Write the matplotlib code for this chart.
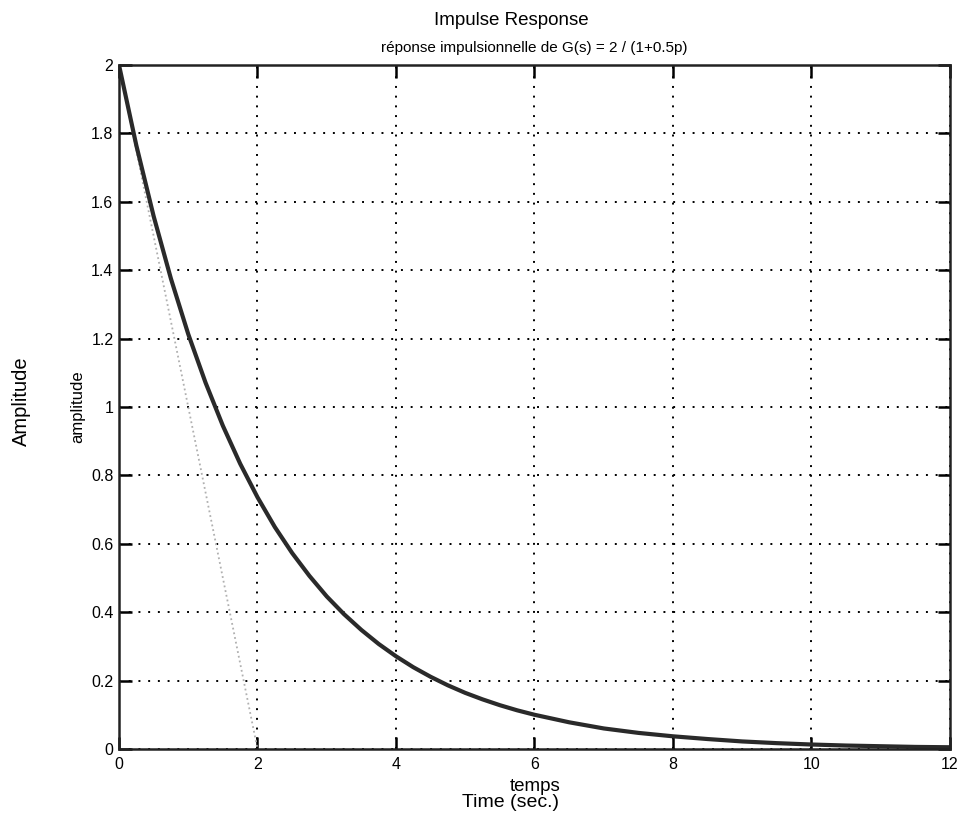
import matplotlib
matplotlib.use("Agg")
from matplotlib import pyplot as plt

# valeurs
temps = [0, 0.25, 0.5, 0.75, 1, 1.25, 1.5, 1.75, 2, 2.25, 2.5, 2.75, 3, 3.25, 3.5, 3.75, 4,
         4.25, 4.5, 4.75, 5, 5.25, 5.5, 5.75, 6, 6.5, 7, 7.5, 8, 8.5, 9, 9.5, 10, 10.5, 11,
         11.5, 12]
amplitude = [2.000, 1.765, 1.558, 1.375, 1.213, 1.071, 0.945, 0.834, 0.736, 0.649, 0.573,
             0.506, 0.446, 0.394, 0.348, 0.307, 0.271, 0.239, 0.211, 0.186, 0.164, 0.145,
             0.128, 0.113, 0.100, 0.078, 0.060, 0.047, 0.037, 0.029, 0.022, 0.017, 0.013,
             0.010, 0.008, 0.006, 0.005]
tangente_t = [0, 2]
tangente_y = [2, 0]
x_ticks = [0, 2, 4, 6, 8, 10, 12]
y_ticks = [0, 0.2, 0.4, 0.6, 0.8, 1, 1.2, 1.4, 1.6, 1.8, 2]

plt.rcParams["font.family"] = ["Liberation Sans", "DejaVu Sans"]

fig = plt.figure(figsize=(9.62, 8.14), dpi=100)
ax = fig.add_axes([0.1237, 0.0799, 0.8638, 0.8403])

ax.plot(tangente_t, tangente_y, linestyle=":", color="#b0b0b0", linewidth=1.3)
ax.plot(temps, amplitude, color="#2a2a2a", linewidth=3)

ax.set_xlim(0, 12)
ax.set_ylim(0, 2)
ax.set_xticks(x_ticks)
ax.set_yticks(y_ticks)
ax.set_xticklabels([str(v) for v in x_ticks])
ax.set_yticklabels([("%g" % v) for v in y_ticks])
ax.tick_params(direction="in", length=9, width=1.8, labelsize=11.5,
               top=True, right=True)
ax.tick_params(axis="x", pad=6)
ax.tick_params(axis="y", pad=4)
ax.grid(True, linestyle=(0, (1, 4)), color="black", linewidth=1.4)
for s in ax.spines.values():
    s.set_linewidth(1.8)
    s.set_color("#222222")

fig.text(0.531, 0.975, "Impulse Response", ha="center", va="center", fontsize=13.5)
fig.text(0.555, 0.941, "réponse impulsionnelle de G(s) = 2 / (1+0.5p)", ha="center",
         va="center", fontsize=11)
fig.text(0.022, 0.507, "Amplitude", rotation=90, ha="center", va="center", fontsize=14.5)
fig.text(0.081, 0.500, "amplitude", rotation=90, ha="center", va="center", fontsize=12)
fig.text(0.556, 0.034, "temps", ha="center", va="center", fontsize=13.5)
fig.text(0.531, 0.014, "Time (sec.)", ha="center", va="center", fontsize=14)

plt.savefig("out.png", dpi=100)
plt.close(fig)
